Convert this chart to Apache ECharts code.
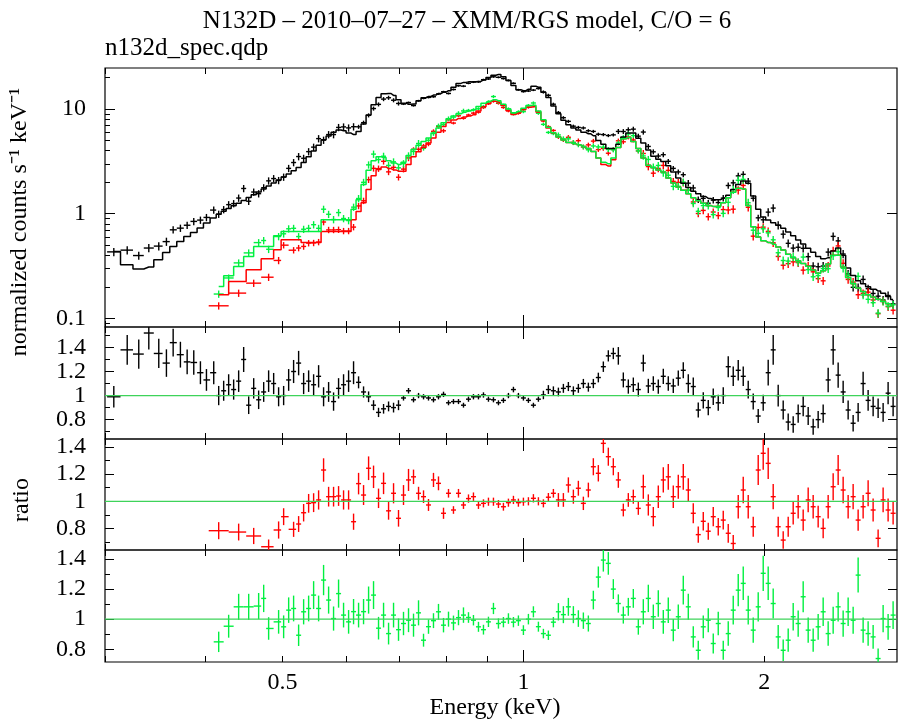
<!DOCTYPE html>
<html><head><meta charset="utf-8">
<script src="https://cdn.jsdelivr.net/npm/echarts@6/dist/echarts.min.js"></script>
<style>html,body{margin:0;padding:0;background:#fff}#c{width:898px;height:724px}</style>
</head><body><div id="c"></div>
<script>
// ---------- DATA ----------
// rows: [energy keV, model (counts/s/keV), data/model ratio]
const blackSpec = [
[0.3077,0.436,0.99],[0.3198,0.325,1.38],[0.3306,0.296,1.345],[0.3403,0.309,1.52],[0.3502,0.363,1.35],
[0.3580,0.426,1.27],[0.3650,0.487,1.44],[0.3727,0.543,1.34],[0.3800,0.606,1.28],[0.3873,0.662,1.275],
[0.3948,0.73,1.19],[0.4017,0.815,1.13],[0.4102,0.91,1.19],
[0.4161,0.99,1.00],[0.4221,1.053,1.04],[0.4282,1.12,1.09],[0.4344,1.19,1.05],[0.4407,1.26,1.12],
[0.4471,1.34,1.30],[0.4536,1.43,0.92],[0.4602,1.52,1.06],[0.4668,1.61,0.965],[0.4736,1.72,1.03],
[0.4804,1.84,1.12],[0.4874,1.97,1.10],[0.4944,2.10,0.99],[0.5016,2.24,1.00],[0.5089,2.40,1.13],
[0.5162,2.57,1.20],[0.5237,2.77,1.27],[0.5313,3.08,1.10],[0.5390,3.50,1.12],[0.5468,3.97,1.09],
[0.5547,4.50,1.16],[0.5627,5.10,0.99],[0.5709,5.54,1.03],[0.5791,6.01,0.95],[0.5875,6.3,1.06],
[0.5960,6.2,1.09],[0.6047,5.9,1.12],[0.6134,5.7,1.19],[0.6223,6.1,1.11],[0.6313,7.2,1.03],
[0.6405,8.8,0.99],[0.6497,11.0,0.92],[0.6591,12.9,0.86],[0.6687,14.0,0.89],[0.6784,14.1,0.91],
[0.6882,13.5,0.90],[0.6981,12.3,0.92],[0.7082,11.4,0.98],[0.7185,11.1,1.04],[0.7289,11.2,0.965],
[0.7395,12.0,1.00],[0.7502,12.8,0.99],[0.7610,13.2,0.98],[0.7720,13.6,0.965],[0.7832,14.1,0.99],
[0.7946,14.5,1.01],[0.8061,15.0,0.94],[0.8177,16.2,0.95],[0.8296,17.6,0.95],[0.8416,18.0,0.92],
[0.8538,18.2,0.97],[0.8661,18.3,0.99],[0.8787,18.4,0.99],[0.8914,19.0,1.005],[0.9043,20.0,0.97],
[0.9174,21.1,0.965],[0.9307,21.4,0.94],[0.9441,20.4,0.96],[0.9578,18.8,1.00],[0.9717,16.8,1.05],
[0.9857,15.3,1.00],[1.0000,15.0,0.98],[1.0145,15.5,0.96],[1.0292,16.5,0.92],[1.0441,16.2,0.97],
[1.0592,14.5,1.005],[1.0745,12.9,1.05],[1.0901,10.7,1.04],[1.1059,9.0,1.03],[1.1219,7.8,1.06],
[1.1381,7.1,1.075],[1.1546,6.6,1.04],[1.1713,6.3,1.06],[1.1883,6.0,1.10],[1.2055,5.8,1.07],
[1.2229,5.56,1.10],[1.2406,5.0,1.15],[1.2586,4.6,1.24],[1.2768,4.2,1.33],[1.2953,4.2,1.35],
[1.3141,4.6,1.33],[1.3331,5.4,1.13],[1.3524,5.9,1.075],[1.3720,5.9,1.09],[1.3919,5.25,1.05],
[1.4120,4.75,1.27],[1.4325,4.07,1.08],[1.4532,3.55,1.10],[1.4742,3.31,1.075],[1.4956,3.16,1.16],
[1.5172,2.88,1.10],[1.5392,2.51,1.08],[1.5615,2.19,1.145],[1.5841,1.95,1.21],[1.6071,1.78,1.10],
[1.6303,1.64,1.075],[1.6539,1.55,0.88],[1.6779,1.46,0.96],[1.7022,1.40,0.90],[1.7268,1.36,0.99],
[1.7518,1.36,0.94],[1.7772,1.41,1.00],[1.8029,1.5,1.24],[1.8290,1.7,1.16],[1.8555,1.9,1.21],
[1.8824,2.05,1.16],[1.9096,1.95,1.05],[1.9373,1.48,0.95],[1.9653,1.10,0.83],[1.9938,0.93,0.94],
[2.0226,0.87,1.19],[2.0519,0.82,1.38],[2.0816,0.776,1.00],[2.1118,0.724,0.88],[2.1424,0.668,0.78],
[2.1734,0.617,0.76],[2.2048,0.562,0.85],[2.2368,0.513,0.91],[2.2692,0.468,0.83],[2.3020,0.427,0.74],
[2.3353,0.389,0.80],[2.3692,0.372,0.85],[2.4035,0.38,1.13],[2.4383,0.44,1.38],[2.4736,0.47,1.17],
[2.5094,0.40,1.03],[2.5457,0.302,0.88],[2.5826,0.257,0.77],[2.6200,0.229,0.86],[2.6579,0.214,1.10],
[2.6964,0.20,0.96],[2.7355,0.19,0.91],[2.7751,0.182,0.895],[2.8153,0.174,0.86],[2.8560,0.162,1.02],
[2.8974,0.151,0.91]
];
const redSpec = [
[0.4161,0.168,0.784],[0.4407,0.225,0.774],[0.4602,0.291,0.745],[0.4804,0.371,0.666],[0.4944,0.453,0.789],
[0.5016,0.564,0.887],[0.5162,0.564,0.794],[0.5237,0.564,0.833],[0.5313,0.531,0.916],[0.5390,0.531,0.985],
[0.5468,0.531,0.99],[0.5547,0.531,1.01],[0.5627,0.677,1.23],[0.5709,0.677,1.034],[0.5791,0.677,1.034],
[0.5875,0.677,1.039],[0.5960,0.677,1.01],[0.6047,0.677,1.01],[0.6134,0.876,0.85],[0.6223,1.05,1.13],
[0.6313,1.27,1.046],[0.6405,1.7,1.243],[0.6497,2.3,1.18],[0.6591,2.64,1.022],[0.6687,2.8,1.132],
[0.6784,2.7,0.93],[0.6882,2.62,1.059],[0.6981,2.55,0.875],[0.7082,2.55,1.046],[0.7185,2.95,1.157],
[0.7289,3.5,1.18],[0.7395,3.9,1.059],[0.7502,4.3,1.034],[0.7610,4.75,0.973],[0.7720,5.3,1.157],
[0.7832,6.0,1.132],[0.7946,6.8,0.912],[0.8061,7.45,1.059],[0.8177,7.85,0.936],[0.8296,8.15,1.059],
[0.8416,8.4,0.973],[0.8538,8.6,1.02],[0.8661,8.85,1.034],[0.8787,9.6,0.973],[0.8914,10.5,0.985],
[0.9043,11.3,0.997],[0.9174,11.9,0.997],[0.9307,11.6,0.98],[0.9441,10.8,0.96],[0.9578,9.7,0.99],
[0.9717,8.9,1.01],[0.9857,9.2,0.99],[1.0000,9.9,0.997],[1.0145,10.4,1.0],[1.0292,10.5,1.022],
[1.0441,9.4,1.0],[1.0592,7.8,0.985],[1.0745,6.6,1.03],[1.0901,5.9,1.059],[1.1059,5.4,1.01],
[1.1219,5.05,1.01],[1.1381,4.8,1.12],[1.1546,4.65,1.034],[1.1713,4.55,1.096],[1.1883,4.4,0.985],
[1.2055,4.2,1.083],[1.2229,3.94,1.254],[1.2406,3.4,1.206],[1.2586,2.95,1.426],[1.2768,2.85,1.328],
[1.2953,3.28,1.254],[1.3141,4.3,1.157],[1.3331,5.2,0.936],[1.3524,5.35,1.01],[1.3720,4.9,1.034],
[1.3919,4.2,0.948],[1.4120,3.4,1.107],[1.4325,2.9,0.973],[1.4532,2.75,0.887],[1.4742,2.62,1.034],
[1.4956,2.5,1.157],[1.5172,2.2,1.18],[1.5392,1.97,1.034],[1.5615,1.80,1.107],[1.5841,1.68,1.18],
[1.6071,1.55,1.083],[1.6303,1.42,0.912],[1.6539,1.33,0.755],[1.6779,1.26,0.853],[1.7022,1.20,0.78],
[1.7268,1.17,0.887],[1.7518,1.18,0.813],[1.7772,1.27,0.862],[1.8029,1.42,0.765],[1.8290,1.60,0.69],
[1.8555,1.75,0.96],[1.8824,1.72,1.083],[1.9096,1.20,0.96],[1.9373,0.75,0.813],[1.9653,0.60,1.23],
[1.9938,0.55,1.353],[2.0226,0.53,1.279],[2.0519,0.51,1.034],[2.0816,0.48,0.813],[2.1118,0.45,0.715],
[2.1424,0.41,0.813],[2.1734,0.38,0.912],[2.2048,0.355,0.96],[2.2368,0.335,0.862],[2.2692,0.315,1.01],
[2.3020,0.29,0.96],[2.3353,0.27,0.887],[2.3692,0.285,0.801],[2.4035,0.33,0.96],[2.4383,0.40,1.107],
[2.4736,0.40,1.23],[2.5094,0.31,1.083],[2.5457,0.245,0.96],[2.5826,0.215,1.034],[2.6200,0.195,0.862],
[2.6579,0.18,0.96],[2.6964,0.168,1.059],[2.7355,0.16,0.936],[2.7751,0.152,0.728],[2.8153,0.145,1.01],
[2.8560,0.138,0.936],[2.8974,0.131,0.912]
];
const greenSpec = [
[0.4161,0.201,0.849],[0.4282,0.255,0.953],[0.4407,0.313,1.082],[0.4536,0.39,1.082],[0.4668,0.487,1.087],
[0.4736,0.487,1.138],[0.4804,0.487,0.938],[0.4944,0.616,0.982],[0.5016,0.677,0.949],[0.5089,0.677,1.06],
[0.5162,0.677,1.071],[0.5237,0.677,0.893],[0.5313,0.677,1.049],[0.5390,0.677,1.071],[0.5468,0.677,1.16],
[0.5547,0.677,1.071],[0.5627,0.876,1.26],[0.5709,0.876,1.127],[0.5791,0.876,1.004],[0.5875,0.876,1.17],
[0.5960,0.876,1.027],[0.6047,0.876,0.982],[0.6134,1.1,1.05],[0.6223,1.36,1.027],[0.6313,1.9,1.05],
[0.6405,2.6,1.127],[0.6497,3.2,1.16],[0.6591,3.5,0.94],[0.6687,3.45,1.027],[0.6784,3.2,0.904],
[0.6882,3.05,1.027],[0.6981,2.95,0.93],[0.7082,3.1,0.971],[0.7185,3.6,0.993],[0.7289,4.1,0.96],
[0.7395,4.5,1.042],[0.7502,4.9,0.86],[0.7610,5.3,0.95],[0.7720,5.9,0.99],[0.7832,6.6,1.049],
[0.7946,7.4,0.96],[0.8061,8.1,1.0],[0.8177,8.6,0.975],[0.8296,9.0,1.01],[0.8416,9.35,1.027],
[0.8538,9.6,1.011],[0.8661,9.9,0.993],[0.8787,10.6,0.949],[0.8914,11.4,0.93],[0.9043,11.9,0.982],
[0.9174,12.3,1.071],[0.9307,12.0,0.971],[0.9441,11.1,0.98],[0.9578,10.0,1.004],[0.9717,9.2,0.98],
[0.9857,9.5,0.99],[1.0000,10.2,0.927],[1.0145,10.8,1.0],[1.0292,10.9,1.049],[1.0441,9.6,0.95],
[1.0592,7.9,0.904],[1.0745,6.7,0.893],[1.0901,5.95,0.98],[1.1059,5.4,1.049],[1.1219,5.05,1.03],
[1.1381,4.8,1.082],[1.1546,4.65,1.03],[1.1713,4.55,1.004],[1.1883,4.4,0.99],[1.2055,4.2,0.971],
[1.2229,3.94,1.127],[1.2406,3.4,1.28],[1.2586,3.1,1.393],[1.2768,3.0,1.371],[1.2953,3.4,1.20],
[1.3141,4.3,1.104],[1.3331,5.2,1.027],[1.3524,5.35,1.082],[1.3720,4.9,1.138],[1.3919,4.2,0.949],
[1.4120,3.4,1.049],[1.4325,2.9,1.138],[1.4532,2.75,1.016],[1.4742,2.62,1.104],[1.4956,2.5,0.982],
[1.5172,2.2,1.06],[1.5392,1.97,0.927],[1.5615,1.80,1.016],[1.5841,1.68,1.193],[1.6071,1.55,1.082],
[1.6303,1.42,0.882],[1.6539,1.33,0.793],[1.6779,1.26,0.949],[1.7022,1.20,0.993],[1.7268,1.17,0.838],
[1.7518,1.18,0.971],[1.7772,1.27,0.793],[1.8029,1.42,0.904],[1.8290,1.60,1.06],[1.8555,1.75,1.193],
[1.8824,1.72,1.238],[1.9096,1.20,1.06],[1.9373,0.75,0.927],[1.9653,0.60,1.082],[1.9938,0.55,1.305],
[2.0226,0.53,1.238],[2.0519,0.51,1.104],[2.0816,0.48,0.882],[2.1118,0.45,0.793],[2.1424,0.41,0.86],
[2.1734,0.38,1.016],[2.2048,0.355,0.971],[2.2368,0.335,1.149],[2.2692,0.315,0.927],[2.3020,0.29,0.86],
[2.3353,0.27,0.949],[2.3692,0.285,1.049],[2.4035,0.33,0.904],[2.4383,0.40,0.993],[2.4736,0.40,1.082],
[2.5094,0.31,0.971],[2.5457,0.245,1.049],[2.5826,0.215,0.993],[2.6200,0.195,1.293],[2.6579,0.18,0.927],
[2.6964,0.168,0.904],[2.7355,0.16,0.882],[2.7751,0.152,0.738],[2.8153,0.145,1.004],[2.8560,0.138,0.949],
[2.8974,0.131,1.027]
];
// relative 1-sigma error by energy band: [upper energy, relative error]
const blackErrBands = [[0.36,0.09],[0.62,0.08],[0.70,0.045],[1.05,0.022],[1.30,0.035],[1.60,0.055],[2.0,0.07],[3.0,0.09]];
const redErrBands   = [[0.50,0.08],[0.72,0.07],[0.80,0.045],[1.10,0.03],[1.40,0.05],[1.80,0.08],[3.0,0.09]];
const greenErrBands = [[0.50,0.08],[0.75,0.08],[0.85,0.05],[1.10,0.035],[1.40,0.055],[1.80,0.08],[3.0,0.09]];

// axes ranges and ticks
const energyRange = [0.3, 2.93];
const energyMajorTicks = [1];
const energyMinorTicks = [0.3,0.4,0.5,0.6,0.7,0.8,0.9,2];
const energyTickLabels = [0.5,1,2];
const countsRange = [0.0826, 24.7];
const countsTickLabels = [0.1,1,10];
const countsMinorTicks = [0.09,0.2,0.3,0.4,0.5,0.6,0.7,0.8,0.9,2,3,4,5,6,7,8,9,20];
const ratioRanges = [[0.639,1.57],[0.642,1.458],[0.715,1.46]];
const ratioTickLabels = [0.8,1,1.2,1.4];
const ratioMinorTicks = [0.7,0.9,1.1,1.3,1.5];
const unityRatio = 1;

const titleText = 'N132D – 2010–07–27 – XMM/RGS model, C/O = 6';
const fileText = 'n132d_spec.qdp';
const yTitleTop = 'normalized counts s\u207B\u00B9 keV\u207B\u00B9';
const yTitleRatio = 'ratio';
const xTitle = 'Energy (keV)';

// ---------- CHART ----------
const LOG = Math.log10;
const FONT = '"Liberation Serif","Times New Roman",serif';
const BLACK = '#000000', RED = '#ff0000', GREEN = '#00f040', ONE = '#3ed35a';
const fmt = v => String(Number(v.toPrecision(3)));

const grids = [
  {left:105, top:68, width:792, height:259},
  {left:105, top:327, width:792, height:112},
  {left:105, top:439, width:792, height:111},
  {left:105, top:550, width:792, height:112}
].map(g => Object.assign(g, {show:true, borderColor:'#000', borderWidth:1.2, backgroundColor:'transparent', containLabel:false, outerBoundsMode:'none'}));

const xAxes = [], yAxes = [];
function addX(g, pos, ticks, len, labels) {
  xAxes.push({
    type:'value', gridIndex:g, position:pos, min:LOG(energyRange[0]), max:LOG(energyRange[1]),
    axisLine:{show:false, onZero:false}, splitLine:{show:false},
    axisTick:{show:true, inside:true, length:len, customValues:ticks.map(LOG), lineStyle:{color:'#000', width:1}},
    axisLabel: labels ? {show:true, inside:false, customValues:labels.map(LOG), formatter:v=>fmt(Math.pow(10,v)),
      fontFamily:FONT, fontSize:24, color:'#000', margin:9} : {show:false}
  });
  return xAxes.length - 1;
}
function addY(g, pos, range, isLog, ticks, len, labels) {
  const tr = isLog ? LOG : (v => v);
  yAxes.push({
    type:'value', gridIndex:g, position:pos, min:tr(range[0]), max:tr(range[1]),
    axisLine:{show:false, onZero:false}, splitLine:{show:false},
    axisTick:{show:true, inside:true, length:len, customValues:ticks.map(tr), lineStyle:{color:'#000', width:1}},
    axisLabel: labels ? {show:true, customValues:labels.map(tr),
      formatter: isLog ? (v=>fmt(Math.pow(10,v))) : (v=>fmt(v)),
      fontFamily:FONT, fontSize:24, color:'#000', margin:19} : {show:false}
  });
  return yAxes.length - 1;
}

const gx = [], gy = [];
for (let g = 0; g < 4; g++) {
  gx.push(addX(g, 'bottom', energyMinorTicks, 6, g === 3 ? energyTickLabels : null));
  addX(g, 'bottom', energyMajorTicks, 12, null);
  addX(g, 'top', energyMinorTicks, 6, null);
  addX(g, 'top', energyMajorTicks, 12, null);
  if (g === 0) {
    gy.push(addY(0, 'left', countsRange, true, countsTickLabels, 10, countsTickLabels));
    addY(0, 'left', countsRange, true, countsMinorTicks, 5, null);
    addY(0, 'right', countsRange, true, countsTickLabels, 10, null);
  } else {
    const r = ratioRanges[g-1];
    gy.push(addY(g, 'left', r, false, ratioTickLabels, 9, ratioTickLabels));
    addY(g, 'left', r, false, ratioMinorTicks, 5, null);
    addY(g, 'right', r, false, ratioTickLabels, 9, null);
  }
}

function relErr(bands, E) {
  for (const b of bands) if (E <= b[0]) return b[1];
  return bands[bands.length-1][1];
}
function crossData(rows, valueOf, bands, isLog) {
  return rows.map((r, i) => {
    const lx = LOG(r[0]);
    const prev = i > 0 ? LOG(rows[i-1][0]) : null;
    const next = i < rows.length-1 ? LOG(rows[i+1][0]) : null;
    const hl = prev !== null ? (lx-prev)/2 : (next-lx)/2;
    const hr = next !== null ? (next-lx)/2 : (lx-prev)/2;
    const v = valueOf(r), e = relErr(bands, r[0]);
    const lo = v*(1-e), hi = v*(1+e);
    return isLog ? [lx, LOG(v), lx-hl, lx+hr, LOG(lo), LOG(hi)] : [lx, v, lx-hl, lx+hr, lo, hi];
  });
}
function crossSeries(data, color, g) {
  return {
    type:'custom', xAxisIndex:gx[g], yAxisIndex:gy[g], clip:true, silent:true, z:3,
    encode:{x:0, y:1}, data:data,
    renderItem:(params, api) => {
      const c = api.coord([api.value(0), api.value(1)]);
      const a = api.coord([api.value(2), api.value(1)]);
      const b = api.coord([api.value(3), api.value(1)]);
      const lo = api.coord([api.value(0), api.value(4)]);
      const hi = api.coord([api.value(0), api.value(5)]);
      const st = {stroke:color, lineWidth:1.4};
      return {type:'group', children:[
        {type:'line', shape:{x1:a[0], y1:c[1], x2:b[0], y2:c[1]}, style:st},
        {type:'line', shape:{x1:c[0], y1:lo[1], x2:c[0], y2:hi[1]}, style:st}
      ]};
    }
  };
}
function unitySeries(g) {
  return {type:'line', xAxisIndex:gx[g], yAxisIndex:gy[g], symbol:'none', silent:true, z:4,
    lineStyle:{color:ONE, width:1.2},
    data:[[LOG(energyRange[0]), unityRatio], [LOG(energyRange[1]), unityRatio]]};
}
function modelSeries(rows, color) {
  return {type:'line', xAxisIndex:gx[0], yAxisIndex:gy[0], step:'middle', symbol:'none', silent:true, z:3,
    lineStyle:{color:color, width:1.5}, data:rows.map(r => [LOG(r[0]), LOG(r[1])])};
}

const series = [
  crossSeries(crossData(blackSpec, r => r[1]*r[2], blackErrBands, true), BLACK, 0),
  modelSeries(blackSpec, BLACK),
  crossSeries(crossData(redSpec, r => r[1]*r[2], redErrBands, true), RED, 0),
  modelSeries(redSpec, RED),
  crossSeries(crossData(greenSpec, r => r[1]*r[2], greenErrBands, true), GREEN, 0),
  modelSeries(greenSpec, GREEN),
  crossSeries(crossData(blackSpec, r => r[2], blackErrBands, false), BLACK, 1),
  unitySeries(1),
  crossSeries(crossData(redSpec, r => r[2], redErrBands, false), RED, 2),
  unitySeries(2),
  crossSeries(crossData(greenSpec, r => r[2], greenErrBands, false), GREEN, 3),
  unitySeries(3)
];

const txt = (o) => Object.assign({type:'text', silent:true}, o);
const graphic = [
  txt({x:467, y:21, style:{text:titleText, font:'25px '+FONT, fill:'#000', align:'center', verticalAlign:'middle'}}),
  txt({x:105, y:48, style:{text:fileText, font:'25px '+FONT, fill:'#000', align:'left', verticalAlign:'middle'}}),
  txt({x:20, y:222, rotation:Math.PI/2, style:{text:yTitleTop, font:'24px '+FONT, fill:'#000', align:'center', verticalAlign:'middle'}}),
  txt({x:22, y:500, rotation:Math.PI/2, style:{text:yTitleRatio, font:'24px '+FONT, fill:'#000', align:'center', verticalAlign:'middle'}}),
  txt({x:495, y:708, style:{text:xTitle, font:'24px '+FONT, fill:'#000', align:'center', verticalAlign:'middle'}})
];

const chart = echarts.init(document.getElementById('c'), null, {renderer:'canvas'});
chart.setOption({
  animation:false, backgroundColor:'#fff',
  grid:grids, xAxis:xAxes, yAxis:yAxes, series:series, graphic:graphic
});
</script></body></html>
